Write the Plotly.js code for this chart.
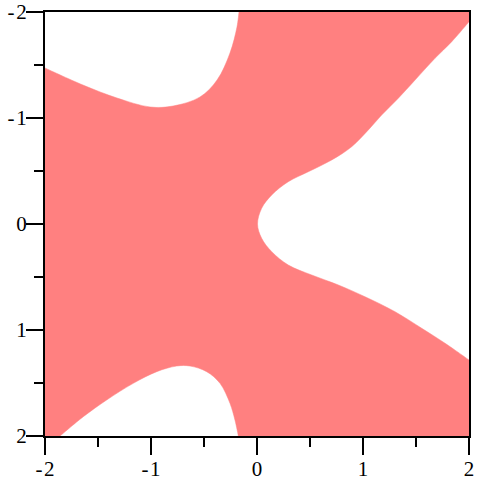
<!DOCTYPE html>
<html>
<head>
<meta charset="utf-8">
<script src="https://cdn.plot.ly/plotly-3.0.1.min.js"></script>
<style>
  body { margin: 0; background: #fff; }
</style>
</head>
<body>
<div id="plot"></div>
<script>
// region plot, boundaries

const xRange = [-2, 2];
const yRange = [-2, 2];

// top-left hole boundary, left edge -> top edge
const topLeftX = [-2.0, -1.642, -1.321, -1.009, -0.792, -0.538, -0.377, -0.255, -0.189, -0.170];
const topLeftY = [-1.472, -1.311, -1.189, -1.104, -1.113, -1.198, -1.358, -1.613, -1.858, -2.0];

// right hole boundary, top of right edge -> round the nose -> bottom of right edge
const rightX = [2.0, 1.837, 1.679, 1.491, 1.333, 1.176, 1.050, 0.893, 0.705, 0.484, 0.295, 0.139, 0.044, 0.005,
  0.044, 0.139, 0.295, 0.516, 0.767, 1.019, 1.302, 1.554, 1.774, 2.0];
const rightY = [-1.908, -1.720, -1.563, -1.358, -1.186, -1.028, -0.887, -0.729, -0.604, -0.493, -0.399, -0.274, -0.148, 0.0,
  0.135, 0.261, 0.387, 0.481, 0.575, 0.686, 0.827, 0.984, 1.125, 1.283];

// bottom-left hole boundary, left -> right along bottom edge
const bottomLeftX = [-1.858, -1.639, -1.418, -1.167, -0.946, -0.758, -0.632, -0.475, -0.349, -0.255, -0.208, -0.176];
const bottomLeftY = [2.0, 1.818, 1.660, 1.503, 1.393, 1.340, 1.340, 1.393, 1.503, 1.692, 1.849, 2.0];

const tickVals = [-2, -1, 0, 1, 2];
const tickText = ['-\u200A2', '-\u200A1', '0', '1', '2'];

// doubled end points keep the spline straight along the frame
function withEnds(a) {
  return [a[0]].concat(a, [a[a.length - 1]]);
}
function twice(v) { return [v, v]; }

const blX = bottomLeftX.slice().reverse();
const blY = bottomLeftY.slice().reverse();

const polyX = [].concat(withEnds(topLeftX), twice(xRange[1]), withEnds(rightX), twice(xRange[1]),
  withEnds(blX), twice(xRange[0]));
const polyY = [].concat(withEnds(topLeftY), twice(yRange[0]), withEnds(rightY), twice(yRange[1]),
  withEnds(blY), twice(yRange[1]));

const axisCommon = {
  tickmode: 'array',
  tickvals: tickVals,
  ticktext: tickText,
  ticks: 'outside',
  ticklen: 17,
  tickwidth: 2,
  tickcolor: '#000',
  minor: {
    tickmode: 'linear',
    tick0: 0,
    dtick: 0.5,
    ticks: 'outside',
    ticklen: 9,
    tickwidth: 2,
    tickcolor: '#000'
  },
  showgrid: false,
  zeroline: false,
  showline: true,
  linecolor: '#000',
  linewidth: 2,
  mirror: true,
  tickfont: { family: 'Liberation Serif, Times New Roman, DejaVu Serif, serif', size: 21, color: '#000' },
  fixedrange: true
};

Plotly.newPlot('plot',
  [{
    x: polyX,
    y: polyY,
    type: 'scatter',
    mode: 'lines',
    fill: 'toself',
    fillcolor: '#ff8080',
    line: { color: '#ff8080', width: 0.5, shape: 'spline', smoothing: 1, simplify: false },
    hoverinfo: 'skip'
  }], {
    width: 479,
    height: 482,
    margin: { l: 45, r: 10, t: 12, b: 46, pad: 0 },
    xaxis: Object.assign({}, axisCommon, { range: xRange, ticklabelstandoff: -4 }),
    yaxis: Object.assign({}, axisCommon, { range: [yRange[1], yRange[0]], ticklabelstandoff: -5 }),
    showlegend: false,
    plot_bgcolor: '#fff',
    paper_bgcolor: '#fff'
  }, {
    staticPlot: true
  });
</script>
</body>
</html>
